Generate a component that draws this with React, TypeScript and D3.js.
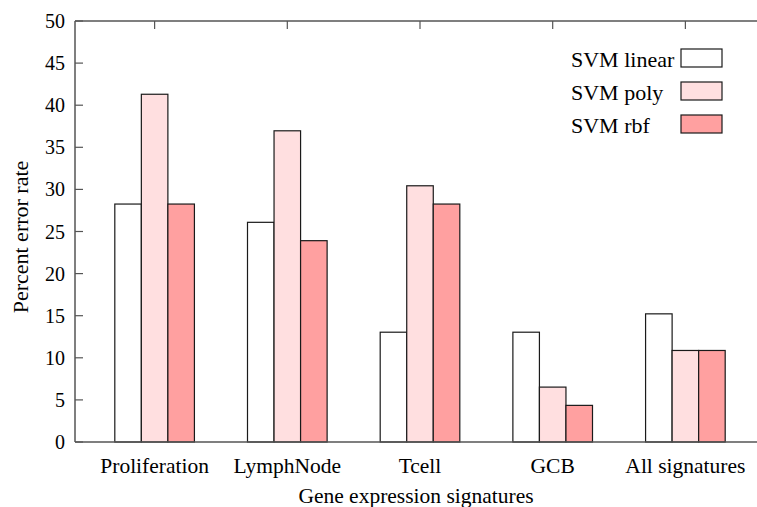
import React, { useEffect, useRef } from "react";
import * as d3 from "d3";

const categories = ["Proliferation", "LymphNode", "Tcell", "GCB", "All signatures"];
const seriesNames = ["SVM linear", "SVM poly", "SVM rbf"];
const linearValues = [28.26, 26.09, 13.04, 13.04, 15.22];
const polyValues = [41.3, 36.96, 30.43, 6.52, 10.87];
const rbfValues = [28.26, 23.91, 28.26, 4.35, 10.87];
const yTicks = [0, 5, 10, 15, 20, 25, 30, 35, 40, 45, 50];
const colors = ["#ffffff", "#ffdfe0", "#ffa0a0"];

const W = 757;
const H = 507;

export default function App() {
  const ref = useRef<SVGSVGElement | null>(null);

  useEffect(() => {
    const svg = d3.select(ref.current);
    svg.selectAll("*").remove();
    const font = "Liberation Serif, DejaVu Serif, serif";

    const x = d3.scaleLinear().domain([-0.6, 4.6]).range([75, 765]);
    const y = d3.scaleLinear().domain([0, 50]).range([442, 21]);
    const bw = x(0.2) - x(0);

    const series = [linearValues, polyValues, rbfValues];

    // bars
    series.forEach((vals, s) => {
      svg.append("g")
        .selectAll("rect")
        .data(vals)
        .join("rect")
        .attr("x", (d, i) => x(i + (s - 1) * 0.2) - bw / 2)
        .attr("y", d => y(d))
        .attr("width", bw)
        .attr("height", d => y(0) - y(d))
        .attr("fill", colors[s])
        .attr("stroke", "#1a1a1a")
        .attr("stroke-width", 1.2);
    });

    // frame
    const axisColor = "#555";
    svg.append("line").attr("x1", x.range()[0]).attr("x2", W).attr("y1", y(0)).attr("y2", y(0))
      .attr("stroke", axisColor).attr("stroke-width", 1.5);
    svg.append("line").attr("x1", x.range()[0]).attr("x2", W).attr("y1", y(50)).attr("y2", y(50))
      .attr("stroke", axisColor).attr("stroke-width", 1.5);
    svg.append("line").attr("x1", x.range()[0]).attr("x2", x.range()[0]).attr("y1", y(0)).attr("y2", y(50))
      .attr("stroke", axisColor).attr("stroke-width", 1.5);

    // y ticks
    const yt = svg.append("g");
    yTicks.forEach(t => {
      yt.append("line").attr("x1", 75).attr("x2", 83).attr("y1", y(t)).attr("y2", y(t))
        .attr("stroke", axisColor).attr("stroke-width", 1.2);
      yt.append("text").attr("x", 65).attr("y", y(t)).attr("dy", "0.35em")
        .attr("text-anchor", "end").attr("font-family", font).attr("font-size", 20)
        .attr("fill", "#000").text(t);
    });

    // top ticks and category labels
    categories.forEach((c, i) => {
      svg.append("line").attr("x1", x(i)).attr("x2", x(i)).attr("y1", y(50)).attr("y2", y(50) + 8)
        .attr("stroke", axisColor).attr("stroke-width", 1.2);
      svg.append("text").attr("x", x(i)).attr("y", 473)
        .attr("text-anchor", "middle").attr("font-family", font).attr("font-size", 21.5)
        .attr("fill", "#000").text(c);
    });

    // axis titles
    svg.append("text").attr("x", 416).attr("y", 503)
      .attr("text-anchor", "middle").attr("font-family", font).attr("font-size", 21.5)
      .attr("fill", "#000").text("Gene expression signatures");
    svg.append("text").attr("transform", "translate(28,237) rotate(-90)")
      .attr("text-anchor", "middle").attr("font-family", font).attr("font-size", 22)
      .attr("fill", "#000").text("Percent error rate");

    // legend
    seriesNames.forEach((n, s) => {
      const top = 49 + s * 33;
      svg.append("text").attr("x", 571).attr("y", top + 18)
        .attr("font-family", font).attr("font-size", 22).attr("fill", "#000").text(n);
      svg.append("rect").attr("x", 681).attr("y", top).attr("width", 41).attr("height", 18)
        .attr("fill", colors[s]).attr("stroke", "#1a1a1a").attr("stroke-width", 1.2);
    });
  }, []);

  return (
    <svg ref={ref} width={W} height={H}
      style={{ position: "fixed", left: 0, top: 0, background: "#fff" }} />
  );
}
